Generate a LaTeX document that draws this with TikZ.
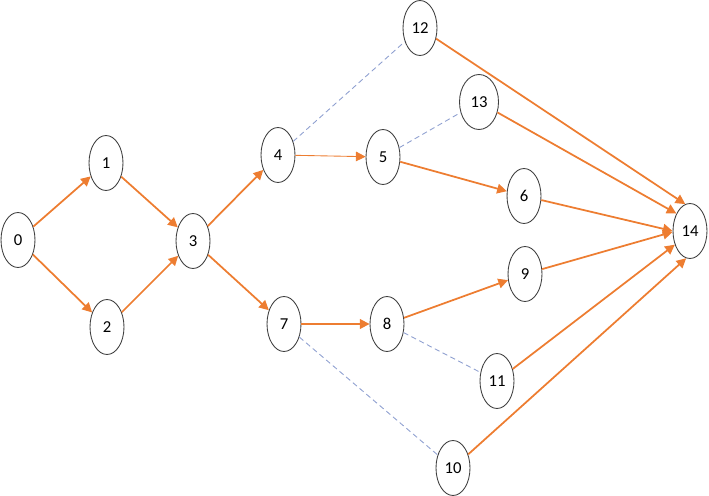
\documentclass[tikz,border=0pt]{standalone}
\usepackage{fontspec}
\setmainfont{Carlito}
\usetikzlibrary{shapes.geometric,arrows.meta}
\definecolor{edgeorange}{HTML}{ED7D31}
\definecolor{dashblue}{HTML}{8E9FD0}
\begin{document}
\begin{tikzpicture}[x=0.02cm, y=-0.02cm,
  state/.style={ellipse, draw=black!75, line width=0.5pt, minimum width=0.68cm,
    minimum height=1.1cm, inner sep=0pt, font=\fontsize{9.5}{10}\selectfont},
  flow/.style={draw=edgeorange, line width=1pt, -{Triangle[length=5.5pt,width=5.5pt]}},
  dummy/.style={draw=dashblue, line width=0.5pt, dash pattern=on 3pt off 2pt}]
  \useasboundingbox (0,0) rectangle (709,496);
  \node[state] (n0) at (18,240) {0};
  \node[state] (n1) at (106,163) {1};
  \node[state] (n2) at (107,327) {2};
  \node[state] (n3) at (193,241) {3};
  \node[state] (n4) at (278,155) {4};
  \node[state] (n5) at (383,157) {5};
  \node[state] (n6) at (524,196) {6};
  \node[state] (n7) at (284,324) {7};
  \node[state] (n8) at (387,324) {8};
  \node[state] (n9) at (525,274) {9};
  \node[state] (n10) at (453,468) {10};
  \node[state] (n11) at (497,381) {11};
  \node[state] (n12) at (420,28) {12};
  \node[state, minimum width=0.78cm] (n13) at (479,102) {13};
  \node[state] (n14) at (690,231) {14};
  \draw[flow] (n0) -- (n1);
  \draw[flow] (n0) -- (n2);
  \draw[flow] (n1) -- (n3);
  \draw[flow] (n2) -- (n3);
  \draw[flow] (n3) -- (n4);
  \draw[flow] (n3) -- (n7);
  \draw[flow, line width=0.5pt] (n4) -- (n5);
  \draw[flow] (n5) -- (n6);
  \draw[flow] (n7) -- (n8);
  \draw[flow] (n8) -- (n9);
  \draw[flow] (n12) -- (n14.100);
  \draw[flow] (n13) -- (n14.128);
  \draw[flow] (n6) -- (n14.180);
  \draw[flow] (n9) -- (n14.183);
  \draw[flow] (n11) -- (n14.222);
  \draw[flow] (n10) -- (n14.262);
  \draw[dummy] (n4) -- (n12);
  \draw[dummy] (n5) -- (n13);
  \draw[dummy] (n8) -- (n11);
  \draw[dummy] (n7) -- (n10);
\end{tikzpicture}
\end{document}
